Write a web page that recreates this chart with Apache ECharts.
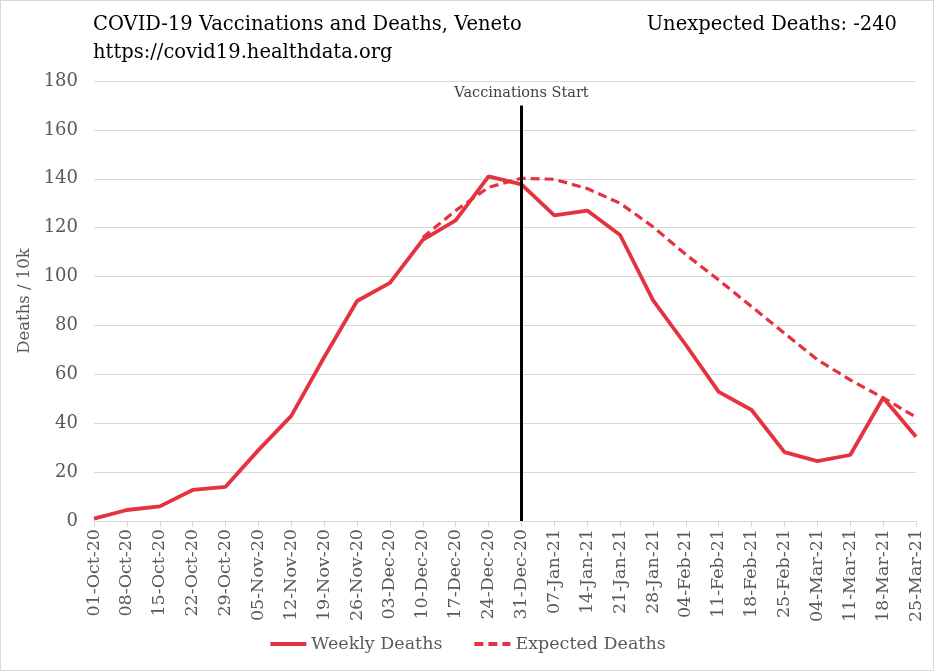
<!DOCTYPE html>
<html>
<head>
<meta charset="utf-8">
<script src="https://cdn.jsdelivr.net/npm/echarts@6/dist/echarts.min.js"></script>
<style>
html,body{margin:0;padding:0;background:#fff;}
#wrap{position:absolute;left:0;top:0;width:932px;height:669px;border:1px solid #d9d9d9;}
#chart{width:932px;height:669px;}
</style>
</head>
<body>
<div id="wrap"><div id="chart"></div></div>
<script>
const categories = ['01-Oct-20','08-Oct-20','15-Oct-20','22-Oct-20','29-Oct-20','05-Nov-20','12-Nov-20','19-Nov-20','26-Nov-20','03-Dec-20','10-Dec-20','17-Dec-20','24-Dec-20','31-Dec-20','07-Jan-21','14-Jan-21','21-Jan-21','28-Jan-21','04-Feb-21','11-Feb-21','18-Feb-21','25-Feb-21','04-Mar-21','11-Mar-21','18-Mar-21','25-Mar-21'];
const weeklyDeaths = [1, 4.5, 6, 12.7, 14, 29, 43, 67, 90, 97.4, 115, 123, 141, 137.7, 125, 127, 117, 90.4, 72, 52.8, 45.4, 28.2, 24.5, 27, 50.4, 34.5];
const expectedDeaths = [null, null, null, null, null, null, null, null, null, null, 116, 127, 136.5, 140.2, 139.8, 136, 130, 120.4, 109, 98.6, 87.7, 76.8, 66, 57.7, 50.4, 42.5];
const yTicks = [0, 20, 40, 60, 80, 100, 120, 140, 160, 180];
const vaccinationDate = '31-Dec-20';
const vaccinationLineTop = 170;

const FONT = 'DejaVu Serif';
const RED = '#E5323F';
const chart = echarts.init(document.getElementById('chart'), null, {renderer: 'canvas'});
chart.setOption({
  animation: false,
  backgroundColor: '#fff',
  textStyle: {fontFamily: FONT},
  title: [
    {text: 'COVID-19 Vaccinations and Deaths, Veneto', left: 87, top: 9,
     textStyle: {fontFamily: FONT, fontSize: 19.5, fontWeight: 'normal', color: '#000'}},
    {text: 'https://covid19.healthdata.org', left: 87, top: 37,
     textStyle: {fontFamily: FONT, fontSize: 19.5, fontWeight: 'normal', color: '#000'}},
    {text: 'Unexpected Deaths: -240', right: 31, top: 9,
     textStyle: {fontFamily: FONT, fontSize: 19.5, fontWeight: 'normal', color: '#000'}}
  ],
  legend: {
    bottom: 12, left: 'center', itemWidth: 36, itemHeight: 14, itemGap: 30,
    itemStyle: {opacity: 0},
    lineStyle: {width: 4},
    textStyle: {fontFamily: FONT, fontSize: 17.5, color: '#595959'},
    data: ['Weekly Deaths', 'Expected Deaths']
  },
  grid: {left: 93, right: 17, top: 80, bottom: 149},
  xAxis: {
    type: 'category', data: categories, boundaryGap: false,
    axisLine: {lineStyle: {color: '#d9d9d9', width: 1}},
    axisTick: {show: true, length: 6, lineStyle: {color: '#d9d9d9'}, alignWithLabel: true},
    axisLabel: {rotate: 90, interval: 0, fontFamily: FONT, fontSize: 17.5, color: '#595959', margin: 8},
    splitLine: {show: false}
  },
  yAxis: {
    type: 'value', min: yTicks[0], max: yTicks[yTicks.length-1], interval: 20,
    name: 'Deaths / 10k', nameLocation: 'middle', nameGap: 53, nameRotate: 90,
    nameTextStyle: {fontFamily: FONT, fontSize: 16.5, color: '#595959'},
    axisLine: {show: false}, axisTick: {show: false},
    axisLabel: {fontFamily: FONT, fontSize: 18, color: '#595959', margin: 16},
    splitLine: {lineStyle: {color: '#d9d9d9', width: 1}}
  },
  series: [
    {
      name: 'Weekly Deaths', type: 'line', data: weeklyDeaths, symbol: 'none', z: 3,
      lineStyle: {color: RED, width: 3.8}, itemStyle: {color: RED},
      markLine: {
        silent: true, symbol: 'none',
        lineStyle: {color: '#000', width: 3, type: 'solid'},
        label: {show: true, position: 'end', formatter: 'Vaccinations Start',
                fontFamily: FONT, fontSize: 14.5, color: '#404040', distance: 5},
        data: [[{coord: [vaccinationDate, 0]}, {coord: [vaccinationDate, vaccinationLineTop]}]]
      }
    },
    {
      name: 'Expected Deaths', type: 'line', data: expectedDeaths, symbol: 'none', z: 2,
      lineStyle: {color: RED, width: 3.2, type: [9, 5]}, itemStyle: {color: RED}
    }
  ]
});
</script>
</body>
</html>
